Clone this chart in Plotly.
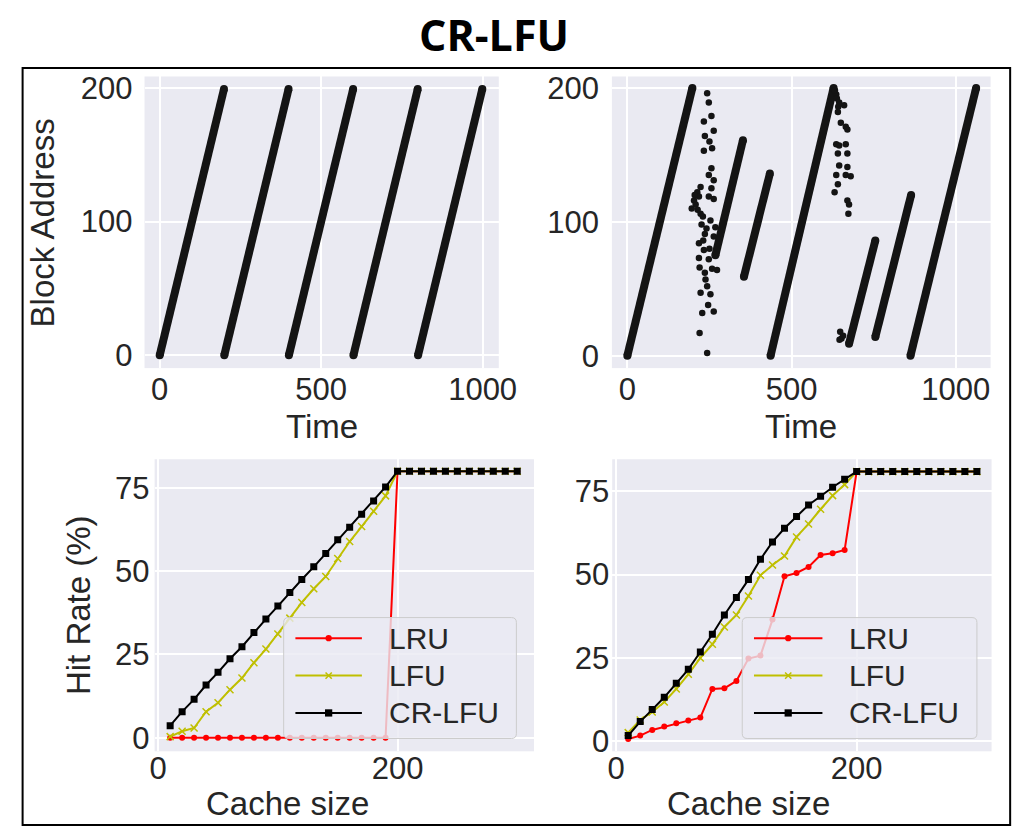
import plotly.graph_objects as go

W, H = 1035, 835

# ---------------- data ----------------
# top-left trace: sequential scans (time start/end, address start/end)
tl_scan_t0 = [0, 200, 400, 600, 800]
tl_scan_t1 = [199, 399, 599, 799, 999]
tl_scan_a0 = [0, 0, 0, 0, 0]
tl_scan_a1 = [199, 199, 199, 199, 199]

# top-right trace: scans
tr_scan_t0 = [0, 268, 355, 436, 675, 755, 862]
tr_scan_t1 = [198, 352, 434, 628, 755, 864, 1062]
tr_scan_a0 = [0, 75, 59, 0, 9, 14, 0]
tr_scan_a1 = [200, 161, 136, 200, 86, 120, 200]

# top-right trace: random accesses
tr_dot_t = [243, 248, 256, 233, 263, 236, 258, 233, 248, 263, 223, 213, 203, 196, 208, 218,
            256, 248, 263, 223, 253, 226, 268, 236, 263, 218, 233, 218, 248, 220, 258, 273,
            238, 223, 253, 246, 263, 228, 220, 243, 205, 214, 230, 241, 231, 250, 236, 243,
            256, 250,
            636, 645, 660, 641, 650, 665, 670, 636, 645, 665, 670, 641, 645, 670, 636, 665,
            680, 641, 631, 670, 675, 673, 632, 638, 642,
            648, 652, 657, 646]
tr_dot_a = [196, 189, 179, 175, 168, 164, 155, 153, 135, 131, 126, 122, 116, 110, 113, 119,
            125, 119, 117, 106, 101, 98, 96, 91, 89, 84, 79, 73, 72, 66, 65, 64,
            57, 47, 46, 38, 33, 32, 17, 2, 120, 109, 104, 95, 86, 80, 62, 52,
            140, 160,
            195, 189, 187, 182, 174, 171, 169, 158, 157, 158, 151, 151, 142, 141, 135, 135,
            134, 128, 122, 116, 113, 106, 198, 192, 186,
            18, 13, 15, 12]

cache_size = [10, 20, 30, 40, 50, 60, 70, 80, 90, 100, 110, 120, 130, 140, 150,
              160, 170, 180, 190, 200, 210, 220, 230, 240, 250, 260, 270, 280, 290, 300]

series_names = ["LRU", "LFU", "CR-LFU"]

left_lru = [0, 0, 0, 0, 0, 0, 0, 0, 0, 0, 0, 0, 0, 0, 0, 0, 0, 0, 0,
            80, 80, 80, 80, 80, 80, 80, 80, 80, 80, 80]
left_lfu = [0.3, 1.9, 2.9, 7.8, 10.5, 14.4, 17.9, 22.5, 26.6, 31.1, 35.9, 40.6, 44.7, 48.4,
            53.8, 58.9, 63.4, 68.0, 72.6, 80, 80, 80, 80, 80, 80, 80, 80, 80, 80, 80]
left_crlfu = [3.6, 7.8, 11.5, 15.8, 19.6, 23.7, 27.3, 31.6, 35.6, 39.5, 43.6, 47.5, 51.3,
              55.3, 59.4, 63.2, 67.1, 71.1, 75.3, 80, 80, 80, 80, 80, 80, 80, 80, 80, 80, 80]

right_lru = [0.7, 1.7, 3.4, 4.4, 5.4, 6.2, 7.1, 15.7, 15.9, 18.1, 24.8, 25.7, 36.5, 49.5,
             50.5, 52.3, 55.9, 56.4, 57.4, 80.9, 80.9, 80.9, 80.9, 80.9, 80.9, 80.9, 80.9,
             80.9, 80.9, 80.9]
right_lfu = [2.6, 6.4, 8.8, 11.8, 15.7, 20.1, 25.0, 29.1, 34.3, 37.9, 43.6, 49.8, 52.9, 55.6,
             61.3, 65.2, 69.6, 73.7, 77.0, 80.9, 80.9, 80.9, 80.9, 80.9, 80.9, 80.9, 80.9,
             80.9, 80.9, 80.9]
right_crlfu = [1.7, 5.9, 9.5, 13.2, 17.4, 21.6, 26.8, 32.1, 37.9, 43.1, 48.5, 54.6, 59.8,
               63.9, 67.4, 70.9, 73.5, 76.2, 78.6, 80.9, 80.9, 80.9, 80.9, 80.9, 80.9, 80.9,
               80.9, 80.9, 80.9, 80.9]

time_ticks = [0, 500, 1000]
addr_ticks = [0, 100, 200]
cache_ticks = [0, 200]
hit_ticks = [0, 25, 50, 75]

# ---------------- helpers (window pixel -> paper fraction) ----------------
def X(p):
    return p / W

def Y(p):
    return 1 - p / H

def segs(t0, t1, a0, a1):
    xs, ys = [], []
    for s, e, u, v in zip(t0, t1, a0, a1):
        xs += [s, e, None]
        ys += [u, v, None]
    return xs, ys

FONT = "Liberation Sans, Arial, sans-serif"
TXT = "#262626"
BG = "#EAEAF2"
COLORS = {"LRU": "#ff0000", "LFU": "#bfbf00", "CR-LFU": "#000000"}

fig = go.Figure()

# top-left
xs, ys = segs(tl_scan_t0, tl_scan_t1, tl_scan_a0, tl_scan_a1)
fig.add_trace(go.Scatter(x=xs, y=ys, mode="lines+markers", xaxis="x", yaxis="y",
                         line=dict(color="#141414", width=8),
                         marker=dict(color="#141414", size=8), showlegend=False))
# top-right
xs, ys = segs(tr_scan_t0, tr_scan_t1, tr_scan_a0, tr_scan_a1)
fig.add_trace(go.Scatter(x=xs, y=ys, mode="lines+markers", xaxis="x2", yaxis="y2",
                         line=dict(color="#141414", width=8),
                         marker=dict(color="#141414", size=8), showlegend=False))
fig.add_trace(go.Scatter(x=tr_dot_t, y=tr_dot_a, mode="markers", xaxis="x2", yaxis="y2",
                         marker=dict(color="#141414", size=6.5), showlegend=False))

def add_hit(xa, ya, lru, lfu, cr):
    fig.add_trace(go.Scatter(x=cache_size, y=lru, mode="lines+markers", xaxis=xa, yaxis=ya,
                             line=dict(color=COLORS["LRU"], width=2),
                             marker=dict(symbol="circle", size=6, color=COLORS["LRU"]),
                             showlegend=False, name="LRU"))
    fig.add_trace(go.Scatter(x=cache_size, y=lfu, mode="lines+markers", xaxis=xa, yaxis=ya,
                             line=dict(color=COLORS["LFU"], width=2),
                             marker=dict(symbol="x-thin", size=7,
                                         line=dict(color=COLORS["LFU"], width=1.5)),
                             showlegend=False, name="LFU"))
    fig.add_trace(go.Scatter(x=cache_size, y=cr, mode="lines+markers", xaxis=xa, yaxis=ya,
                             line=dict(color=COLORS["CR-LFU"], width=2),
                             marker=dict(symbol="square", size=7, color=COLORS["CR-LFU"]),
                             showlegend=False, name="CR-LFU"))

add_hit("x3", "y3", left_lru, left_lfu, left_crlfu)
add_hit("x4", "y4", right_lru, right_lfu, right_crlfu)

# ---------------- axes ----------------
def axis(dom, rng, ticks, anchor, standoff):
    return dict(domain=dom, range=rng, tickvals=ticks, anchor=anchor,
                showgrid=True, gridcolor="white", gridwidth=1.6, zeroline=False,
                showline=False, ticks="", ticklabelstandoff=standoff,
                tickfont=dict(family=FONT, size=31, color=TXT))

TL = (142.7, 505, 71.7, 368.3)
TR = (620.7, 1008, 71.7, 368.3)
BL = (153, 541, 461, 758)
BR = (621, 1009, 461, 758)

def xd(b): return [X(b[0]), X(b[1])]
def yd(b): return [Y(b[3]), Y(b[2])]

fig.update_layout(
    xaxis=axis(xd(TL), [-47, 1050], time_ticks, "y", 0),
    yaxis=axis(yd(TL), [-9.6, 208.4], addr_ticks, "x", 11),
    xaxis2=axis(xd(TR), [-47, 1106], time_ticks, "y2", 0),
    yaxis2=axis(yd(TR), [-9.2, 208.5], addr_ticks, "x2", 12),
    xaxis3=axis(xd(BL), [-3, 314], cache_ticks, "y3", -4),
    yaxis3=axis(yd(BL), [-4.1, 83.6], hit_ticks, "x3", 4),
    xaxis4=axis(xd(BR), [-3.3, 312.2], cache_ticks, "y4", -4),
    yaxis4=axis(yd(BR), [-3.0, 84.6], hit_ticks, "x4", 2),
)

# ---------------- text ----------------
ann = []
def text(s, x, y, size=33, angle=0, color=TXT, family=FONT, xanchor="center", bold=False):
    ann.append(dict(text=("<b>%s</b>" % s) if bold else s, x=X(x), y=Y(y),
                    xref="paper", yref="paper", showarrow=False, textangle=angle,
                    xanchor=xanchor, yanchor="middle",
                    font=dict(family=family, size=size, color=color)))

text("CR-LFU", 500, 29, size=43, color="black", family="Open Sans, sans-serif", bold=True)
text("Time", 324, 428)
text("Time", 814, 428)
text("Block Address", 38, 221, angle=-90)
text("Hit Rate (%)", 75, 609, angle=-90)
text("Cache size", 289, 811)
text("Cache size", 760, 811)

# ---------------- legends & border ----------------
shapes = []

def rounded(x0, y0, x1, y1, r):
    P = lambda a, b: "%f,%f" % (X(a), Y(b))
    return ("M %s L %s Q %s %s L %s Q %s %s L %s Q %s %s L %s Q %s %s Z" % (
        P(x0 + r, y0), P(x1 - r, y0), P(x1, y0), P(x1, y0 + r), P(x1, y1 - r),
        P(x1, y1), P(x1 - r, y1), P(x0 + r, y1), P(x0, y1), P(x0, y1 - r),
        P(x0, y0 + r), P(x0, y0), P(x0 + r, y0)))

def legend(bx0, bx1, by0, by1, lx0, lx1, tx, rows):
    shapes.append(dict(type="path", path=rounded(bx0, by0, bx1, by1, 5), xref="paper",
                       yref="paper", fillcolor="rgba(234,234,242,0.8)",
                       line=dict(color="#cccccc", width=1)))
    for name, yy in zip(series_names, rows):
        c = COLORS[name]
        shapes.append(dict(type="line", x0=X(lx0), x1=X(lx1), y0=Y(yy), y1=Y(yy),
                           xref="paper", yref="paper", line=dict(color=c, width=2)))
        cx = (lx0 + lx1) / 2
        if name == "LRU":
            r = 3.2
            shapes.append(dict(type="circle", x0=X(cx - r), x1=X(cx + r), y0=Y(yy - r),
                               y1=Y(yy + r), xref="paper", yref="paper", fillcolor=c,
                               line=dict(color=c, width=0)))
        elif name == "LFU":
            r = 3.2
            for d in (1, -1):
                shapes.append(dict(type="line", x0=X(cx - r), x1=X(cx + r),
                                   y0=Y(yy - d * r), y1=Y(yy + d * r), xref="paper",
                                   yref="paper", line=dict(color=c, width=1.5)))
        else:
            r = 3.7
            shapes.append(dict(type="rect", x0=X(cx - r), x1=X(cx + r), y0=Y(yy - r),
                               y1=Y(yy + r), xref="paper", yref="paper", fillcolor=c,
                               line=dict(color=c, width=0)))
        text(name, tx, yy, size=30, xanchor="left")

legend(285, 523, 622, 745, 297, 365, 391, [643, 681, 719])
legend(754, 994, 622, 745, 766, 836, 861, [643, 681, 719])

shapes.append(dict(type="rect", x0=X(18), x1=X(1028), y0=Y(833), y1=Y(63), xref="paper",
                   yref="paper", line=dict(color="black", width=2), fillcolor="rgba(0,0,0,0)"))

fig.update_layout(width=W, height=H, autosize=False, margin=dict(l=0, r=0, t=0, b=0),
                  paper_bgcolor="white", plot_bgcolor=BG, showlegend=False,
                  annotations=ann, shapes=shapes)

fig.write_html("out.html", config={"displayModeBar": False},
               post_script="document.body.style.margin='0';"
                           "document.body.style.padding='0';"
                           "document.body.style.overflow='hidden';"
                           "document.documentElement.style.overflow='hidden';")
